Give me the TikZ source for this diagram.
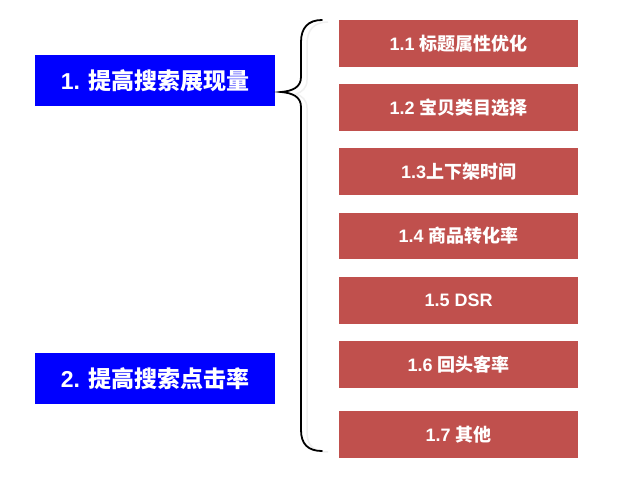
\documentclass[tikz,border=0pt]{standalone}
\usepackage{fontspec}
\setmainfont{Liberation Sans}
\newfontfamily\cjk{Noto Sans CJK SC}
\definecolor{boxred}{HTML}{C0504D}
\definecolor{boxblue}{HTML}{0000FF}
\begin{document}
\begin{tikzpicture}[x=1pt,y=-1pt,
  redbox/.style={fill=boxred, draw=none, minimum width=239pt, minimum height=46.5pt, inner sep=0pt, text=white, font=\fontsize{18}{21}\selectfont\bfseries, anchor=north west},
  bluebox/.style={fill=boxblue, draw=none, minimum width=240pt, minimum height=51pt, inner sep=0pt, text=white, font=\fontsize{23}{27}\selectfont\bfseries, anchor=north west},
  bracestyle/.style={draw=black, line width=1.8pt, line cap=round},
  braceshadow/.style={draw=black!6, line width=1.5pt}]
\useasboundingbox (0,0) rectangle (640,484);
\fill[white] (0,0) rectangle (640,484);
\node[bluebox] (b1) at (35,55) {1. {\cjk\bfseries 提高搜索展现量}};
\node[bluebox] (b2) at (35,353) {2. {\cjk\bfseries 提高搜索点击率}};
\node[redbox] (r1) at (339,20) {1.1 {\cjk\bfseries 标题属性优化}};
\node[redbox] (r2) at (339,84) {1.2 {\cjk\bfseries 宝贝类目选择}};
\node[redbox] (r3) at (339,148) {1.3{\cjk\bfseries 上下架时间}};
\node[redbox] (r4) at (339,212.5) {1.4 {\cjk\bfseries 商品转化率}};
\node[redbox] (r5) at (339,277) {1.5 DSR};
\node[redbox] (r6) at (339,341) {1.6 {\cjk\bfseries 回头客率}};
\node[redbox] (r7) at (339,411) {1.7 {\cjk\bfseries 其他}};
\coordinate (btop) at (322,20);
\coordinate (btip) at (281,92);
\coordinate (bbot) at (322,451);
\draw[braceshadow] (328,22) .. controls (314,22) and (307,30) .. (307,44) -- (307,80)
  .. controls (307,88) and (302,92) .. (296,94) .. controls (302,96) and (307,100) .. (307,108)
  -- (307,432) .. controls (307,446) and (314,452) .. (328,452);
\draw[bracestyle] (btop) .. controls (308,20) and (301,28) .. (301,42) -- (301,77)
  .. controls (301,87) and (293,91) .. (btip) .. controls (293,93) and (301,97) .. (301,107)
  -- (301,430) .. controls (301,444) and (308,451) .. (bbot);
\end{tikzpicture}
\end{document}
